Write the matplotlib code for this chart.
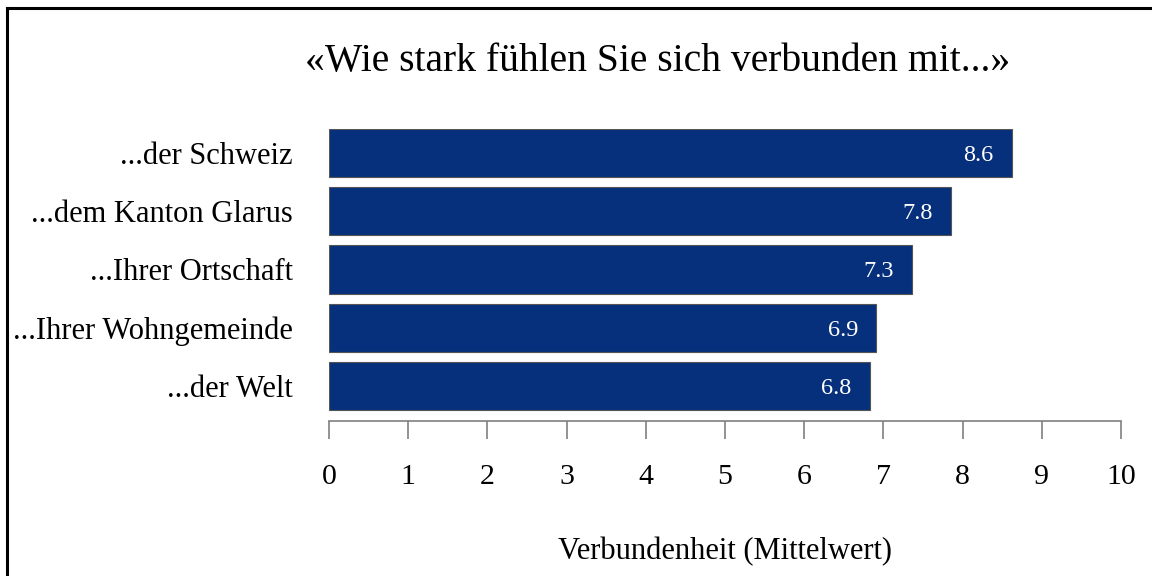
import matplotlib
matplotlib.use("Agg")
import matplotlib.pyplot as plt
from matplotlib.lines import Line2D

# data
categories = ["...der Schweiz", "...dem Kanton Glarus", "...Ihrer Ortschaft",
              "...Ihrer Wohngemeinde", "...der Welt"]
values = [8.62, 7.85, 7.36, 6.91, 6.83]
value_labels = ["8.6", "7.8", "7.3", "6.9", "6.8"]
xticks = [0, 1, 2, 3, 4, 5, 6, 7, 8, 9, 10]

title = "«Wie stark fühlen Sie sich verbunden mit...»"
xlabel = "Verbundenheit (Mittelwert)"

plt.rcParams['font.family'] = ['Liberation Serif', 'DejaVu Serif']

bar_color = "#06307c"
axis_gray = "#808080"

fig = plt.figure(figsize=(11.52, 5.76), dpi=100)
ax = fig.add_axes([0.2856, 0.2691, 0.6875, 0.5069])

pos = list(range(len(categories)))
ax.barh(pos, values, height=0.83, color=bar_color, edgecolor="#555555", linewidth=0.8)

for p, v, lab in zip(pos, values, value_labels):
    ax.text(v - 0.23, p, lab, ha="right", va="center_baseline", color="white", fontsize=17.5)

ax.set_xlim(0, 10)
ax.set_ylim(4.6, -0.41)
ax.set_xticks(xticks)
ax.set_xticklabels([str(t) for t in xticks], fontsize=21.5)
ax.set_yticks(pos)
ax.set_yticklabels(categories, fontsize=22)

ax.tick_params(axis="y", length=0, pad=26)
ax.tick_params(axis="x", direction="out", length=13, width=1.2, color=axis_gray, pad=18)

for s in ["top", "right", "left"]:
    ax.spines[s].set_visible(False)
ax.spines["bottom"].set_color(axis_gray)
ax.spines["bottom"].set_linewidth(1.2)

ax.set_xlabel(xlabel, fontsize=22, labelpad=34)

fig.text(0.571, 0.893, title, ha="center", va="center", fontsize=28.5)

# frame lines (left and top only, as in the reference)
fig.add_artist(Line2D([7 / 1152, 7 / 1152], [0, 1 - 8 / 576], transform=fig.transFigure,
                      color="black", linewidth=2.2))
fig.add_artist(Line2D([7 / 1152, 1], [1 - 8 / 576, 1 - 8 / 576], transform=fig.transFigure,
                      color="black", linewidth=2.2))

fig.savefig("out.png", dpi=100)
